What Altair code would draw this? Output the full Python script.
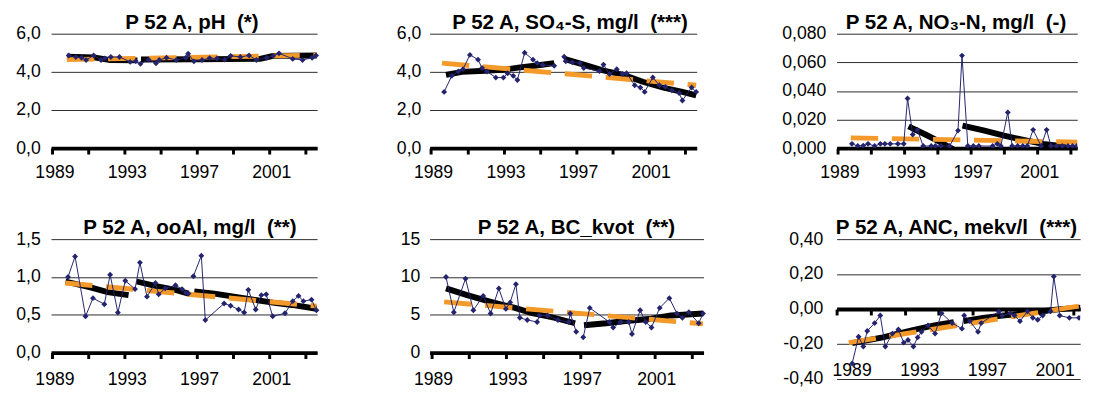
import altair as alt
import pandas as pd

FONT = "Liberation Sans"
NAVY = "#23236E"
ORANGE = "#F39A2B"
XDOM = [1988.92, 2003.65]
XDOM_CUT = [1988.95, 2003.40]
XTICKS = list(range(1989, 2004, 2))

# ---------------- pH ----------------
ph_years = [1989.90, 1990.29, 1990.61, 1990.86, 1991.28, 1991.69, 1991.90, 1992.23, 1992.71, 1993.30,
            1993.61, 1993.87, 1994.32, 1994.73, 1994.91, 1995.31, 1995.85, 1996.38, 1996.51, 1996.83,
            1997.28, 1997.70, 1998.10, 1998.53, 1998.86, 1999.40, 1999.88, 2000.29, 2000.86, 2001.22,
            2001.54, 2002.30, 2002.84, 2003.37, 2003.59]
ph_values = [4.86, 4.78, 4.74, 4.62, 4.86, 4.62, 4.71, 4.78, 4.78, 4.52,
             4.56, 4.42, 4.64, 4.45, 4.62, 4.74, 4.62, 4.74, 4.95, 4.55,
             4.62, 4.72, 4.70, 4.64, 4.84, 4.78, 4.86, 4.62, 4.74, 4.84,
             4.97, 4.68, 4.62, 4.74, 4.86]
ph_trend_years = [1989.80, 1991.30, 1992.20, 1993.70, 1993.90, 1997.00, 2000.50, 2001.20, 2003.62]
ph_trend_values = [4.80, 4.76, 4.62, 4.60, 4.65, 4.66, 4.68, 4.84, 4.86]
ph_trend_seg = [0, 0, 0, 0, 1, 1, 1, 1, 1]
ph_sen_years = [1989.80, 2003.62]
ph_sen_values = [4.64, 4.88]

# ---------------- SO4-S ----------------
so4_years = [1989.72, 1990.14, 1990.50, 1990.76, 1991.14, 1991.59, 1991.81, 1992.08, 1992.57, 1992.99,
             1993.22, 1993.53, 1993.76, 1994.16, 1994.62, 1994.85, 1995.16, 1995.79, 1996.34, 1996.43,
             1996.79, 1997.21, 1997.42, 1998.29, 1998.51, 1998.84, 1999.24, 1999.56, 1999.78, 2000.23,
             2000.54, 2000.78, 2001.23, 2001.59, 2001.92, 2002.28, 2002.68, 2002.86, 2003.37, 2003.62]
so4_values = [2.95, 3.79, 4.02, 4.14, 4.89, 4.64, 4.20, 4.02, 3.70, 3.70,
              3.93, 3.79, 3.57, 5.00, 4.64, 4.46, 4.36, 4.32, 4.79, 4.55,
              4.50, 4.46, 4.20, 4.04, 4.38, 3.89, 4.14, 3.89, 3.93, 3.30,
              3.18, 2.95, 3.71, 3.30, 3.21, 3.03, 2.89, 2.50, 3.18, 2.95]
so4_break = 1996.0
so4_trend_years = [1989.82, 1990.70, 1991.99, 1993.08, 1993.80, 1994.71, 1995.79,
                   1996.34, 1997.42, 1998.51, 1999.60, 2000.68, 2001.77, 2002.86, 2003.62]
so4_trend_values = [3.84, 4.00, 4.06, 4.12, 4.22, 4.32, 4.46,
                    4.68, 4.38, 4.07, 3.84, 3.48, 3.18, 2.95, 2.77]
so4_trend_seg = [0, 0, 0, 0, 0, 0, 0, 1, 1, 1, 1, 1, 1, 1, 1]
so4_sen_years = [1989.60, 2003.62]
so4_sen_values = [4.46, 3.30]

# ---------------- NO3-N ----------------
no3_years = [1989.87, 1990.22, 1990.55, 1990.84, 1991.23, 1991.58, 1991.85, 1992.17, 1992.63, 1992.98,
             1993.21, 1993.52, 1993.80, 1994.15, 1994.63, 1994.88, 1995.21, 1995.74, 1996.24, 1996.48,
             1996.83, 1997.16, 1997.49, 1998.32, 1998.60, 1998.81, 1999.23, 1999.49, 1999.82, 2000.13,
             2000.40, 2000.75, 2001.23, 2001.56, 2001.82, 2002.15, 2002.50, 2002.84, 2003.12, 2003.37,
             2003.62]
no3_values = [0.0030, 0.0015, 0.0018, 0.0030, 0.0015, 0.0030, 0.0030, 0.0030, 0.0030, 0.0030,
              0.0347, 0.0095, 0.0128, 0.0015, 0.0015, 0.0015, 0.0015, 0.0015, 0.0123, 0.0647,
              0.0015, 0.0015, 0.0015, 0.0015, 0.0030, 0.0015, 0.0250, 0.0015, 0.0015, 0.0015,
              0.0015, 0.0128, 0.0015, 0.0128, 0.0015, 0.0015, 0.0015, 0.0015, 0.0015, 0.0015,
              0.0015]
no3_trend_years = [1993.27, 1994.34, 1995.12, 1996.09,
                   1996.51, 1997.83, 1999.00, 2000.17, 2001.33, 2002.50, 2003.27, 2003.62]
no3_trend_values = [0.0153, 0.0092, 0.0046, -0.0016,
                    0.0157, 0.0123, 0.0088, 0.0058, 0.0030, 0.0014, -0.0023, -0.0030]
no3_trend_seg = [0, 0, 0, 0, 1, 1, 1, 1, 1, 1, 1, 1]
no3_sen_years = [1989.80, 2003.62]
no3_sen_values = [0.0072, 0.0042]

# ---------------- ooAl ----------------
ooal_years = [1989.86, 1990.25, 1990.83, 1991.24, 1991.87, 1992.19, 1992.62, 1993.03, 1993.57, 1993.84,
              1994.23, 1994.70, 1994.88, 1995.24, 1995.81, 1996.17, 1996.38, 1996.53, 1996.80, 1997.24,
              1997.46, 1998.50, 1998.86, 1999.30, 1999.61, 1999.84, 2000.25, 2000.56, 2000.83, 2001.19,
              2001.87, 2002.30, 2002.62, 2002.89, 2003.34, 2003.61]
ooal_values = [1.00, 1.27, 0.48, 0.72, 0.64, 1.03, 0.53, 0.95, 0.84, 1.19,
               0.74, 0.92, 0.77, 0.85, 0.89, 0.84, 0.79, 0.78, 1.01, 1.28,
               0.43, 0.65, 0.62, 0.57, 0.53, 0.83, 0.57, 0.76, 0.77, 0.48,
               0.52, 0.68, 0.75, 0.68, 0.70, 0.56]
ooal_break = 1996.65
ooal_trend_years = [1989.72, 1991.15, 1992.05, 1993.21,
                    1993.66, 1994.73, 1995.81, 1996.53,
                    1996.85, 1997.96, 1999.04, 2000.11, 2001.19, 2002.26, 2003.62]
ooal_trend_values = [0.94, 0.86, 0.80, 0.76,
                     0.94, 0.88, 0.83, 0.78,
                     0.81, 0.78, 0.74, 0.70, 0.66, 0.63, 0.58]
ooal_trend_seg = [0, 0, 0, 0, 1, 1, 1, 1, 2, 2, 2, 2, 2, 2, 2]
ooal_sen_years = [1989.70, 2003.62]
ooal_sen_values = [0.92, 0.615]

# ---------------- BC_kvot ----------------
bc_years = [1989.80, 1990.22, 1990.85, 1991.27, 1991.80, 1992.20, 1992.64, 1993.02, 1993.25, 1993.56,
            1993.77, 1994.17, 1994.70, 1994.82, 1995.26, 1995.82, 1996.40, 1996.48, 1996.80, 1997.18,
            1997.53, 1998.58, 1998.79, 1999.19, 1999.63, 1999.80, 2000.24, 2000.54, 2000.85, 2001.29,
            2001.81, 2002.22, 2002.51, 2002.86, 2003.39, 2003.62]
bc_values = [10.0, 5.34, 9.78, 5.60, 7.50, 5.17, 8.49, 5.78, 6.64, 9.05,
             4.61, 4.31, 4.05, 4.91, 4.91, 4.31, 4.05, 5.17, 2.76, 2.03,
             5.91, 4.05, 3.32, 4.05, 4.05, 2.46, 5.60, 4.05, 3.32, 5.91,
             7.20, 5.17, 4.61, 5.34, 3.88, 5.17]
bc_break = 1997.0
bc_trend_years = [1989.80, 1990.89, 1992.11, 1993.51, 1994.38, 1995.61, 1996.74,
                  1997.22, 1998.41, 1999.45, 2000.85, 2001.90, 2003.62]
bc_trend_values = [8.49, 7.63, 6.77, 5.91, 5.26, 4.61, 3.88,
                   3.62, 3.88, 4.18, 4.48, 4.91, 5.17]
bc_trend_seg = [0, 0, 0, 0, 0, 0, 0, 1, 1, 1, 1, 1, 1]
bc_sen_years = [1989.70, 2003.62]
bc_sen_values = [6.70, 3.80]

# ---------------- ANC ----------------
anc_years = [1989.90, 1990.28, 1990.56, 1990.79, 1991.23, 1991.56, 1991.86, 1992.28, 1992.63, 1992.95,
             1993.20, 1993.52, 1993.77, 1994.00, 1994.38, 1994.80, 1995.18, 1995.81, 1996.39, 1996.52,
             1996.86, 1997.34, 1997.53, 1998.58, 1998.77, 1999.25, 1999.50, 1999.82, 2000.26, 2000.58,
             2000.87, 2001.16, 2001.63, 2001.82, 2002.17, 2002.74, 2003.31, 2003.62]
anc_values = [-0.311, -0.158, -0.214, -0.125, -0.080, -0.037, -0.214, -0.140, -0.117, -0.192,
              -0.177, -0.214, -0.162, -0.130, -0.093, -0.140, -0.024, -0.080, -0.112, -0.037,
              -0.069, -0.130, -0.080, -0.013, -0.037, -0.024, -0.037, -0.069, -0.013, -0.050,
              -0.061, -0.037, -0.013, 0.186, -0.037, -0.050, -0.050, -0.009]
anc_trend_years = [1989.90, 1991.71, 1993.43, 1994.76, 1995.91,
                   1996.48, 1997.63, 1998.77, 2000.11, 2001.44, 2002.20, 2003.62]
anc_trend_values = [-0.195, -0.162, -0.121, -0.093, -0.074,
                    -0.069, -0.050, -0.037, -0.024, -0.009, 0.000, 0.010]
anc_trend_seg = [0, 0, 0, 0, 0, 1, 1, 1, 1, 1, 1, 1]
anc_sen_years = [1989.70, 2003.62]
anc_sen_values = [-0.192, 0.022]


def y_label_expr(fmt):
    return ("replace(replace(format(datum.value, '%s'), '.', ','), '\u2212', '-')" % fmt)


def panel(title, obs_years, obs_values, obs_break, tr_years, tr_values, tr_seg,
          sen_years, sen_values, ydom, yticks, yfmt, w, h, y_pad, x_pad, title_dx,
          title_dy, xdom=XDOM, x_offset=0, x_label_offset=2, clip=False):
    obs = pd.DataFrame({"year": obs_years, "value": obs_values})
    obs["seg"] = [int(obs_break is not None and yy > obs_break) for yy in obs_years]
    trend = pd.DataFrame({"year": tr_years, "value": tr_values, "seg": tr_seg})
    sen = pd.DataFrame({"year": sen_years, "value": sen_values})

    x = alt.X("year:Q", scale=alt.Scale(domain=xdom, nice=False, zero=False),
              axis=alt.Axis(values=XTICKS,
                            labelExpr="(datum.value - 1989) % 4 == 0 ? '' + datum.value : ''",
                            title=None, grid=False, domainColor="black", domainWidth=4,
                            tickColor="black", tickWidth=3, tickSize=6,
                            labelFont=FONT, labelFontSize=18, labelColor="black",
                            labelPadding=x_pad, labelFlush=False, labelOverlap=False,
                            offset=x_offset, labelOffset=x_label_offset))
    y = alt.Y("value:Q", scale=alt.Scale(domain=ydom, nice=False, zero=False),
              axis=alt.Axis(values=yticks, labelExpr=y_label_expr(yfmt), title=None,
                            domain=False, ticks=False, grid=True, gridColor="#2a2a2a",
                            gridWidth=1, labelFont=FONT, labelFontSize=18,
                            labelColor="black", labelPadding=y_pad))
    black = alt.Chart(trend).mark_line(color="black", strokeWidth=6, strokeCap="butt",
                                       clip=clip).encode(x=x, y=y, detail="seg:N")
    orange = alt.Chart(sen).mark_line(color=ORANGE, strokeWidth=5, strokeDash=[28, 14],
                                      clip=clip).encode(x=x, y=y)
    navy = alt.Chart(obs).mark_line(
        color=NAVY, strokeWidth=1, clip=clip,
        point=alt.OverlayMarkDef(shape="diamond", size=36, filled=True, color=NAVY,
                                 clip=clip)).encode(x=x, y=y, detail="seg:N")
    return alt.layer(black, orange, navy).properties(
        width=w, height=h,
        title=alt.TitleParams(text=title, font=FONT, fontSize=21, fontWeight="bold",
                              color="black", anchor="middle", frame="group",
                              offset=0, dx=title_dx, dy=title_dy))


def spacer(w, h):
    return alt.Chart(pd.DataFrame({"v": [0]})).mark_point(opacity=0, size=1).encode(
        x=alt.X("v:Q", axis=None), y=alt.Y("v:Q", axis=None)).properties(width=w, height=h)


p1 = panel("P 52 A, pH \u00a0(*)", ph_years, ph_values, None, ph_trend_years, ph_trend_values,
           ph_trend_seg, ph_sen_years, ph_sen_values, [0, 6], [0, 2, 4, 6], ".1f",
           272, 117, 11, 10, 8, 8)
p2 = panel("P 52 A, SO\u2084-S, mg/l \u00a0(***)", so4_years, so4_values, so4_break,
           so4_trend_years, so4_trend_values, so4_trend_seg, so4_sen_years, so4_sen_values,
           [0, 6], [0, 2, 4, 6], ".1f", 273, 117, 9, 10, 7, 8)
p3 = panel("P 52 A, NO\u2083-N, mg/l \u00a0(-)", no3_years, no3_values, None,
           no3_trend_years, no3_trend_values, no3_trend_seg, no3_sen_years, no3_sen_values,
           [0, 0.08], [0, 0.02, 0.04, 0.06, 0.08], ".3f", 246, 117, 11, 10, -1, 8,
           xdom=XDOM_CUT, clip=True)
p4 = panel("P 52 A, ooAl, mg/l \u00a0(**)", ooal_years, ooal_values, ooal_break,
           ooal_trend_years, ooal_trend_values, ooal_trend_seg, ooal_sen_years, ooal_sen_values,
           [0, 1.5], [0, 0.5, 1.0, 1.5], ".1f", 272, 116, 11, 13, 6, 8)
p5 = panel("P 52 A, BC_kvot \u00a0(**)", bc_years, bc_values, bc_break,
           bc_trend_years, bc_trend_values, bc_trend_seg, bc_sen_years, bc_sen_values,
           [0, 15], [0, 5, 10, 15], "d", 280, 116, 10, 13, 10, 8)
p6 = panel("P 52 A, ANC, mekv/l \u00a0(***)", anc_years, anc_values, None,
           anc_trend_years, anc_trend_values, anc_trend_seg, anc_sen_years, anc_sen_values,
           [-0.4, 0.4], [-0.4, -0.2, 0, 0.2, 0.4], ".2f", 249, 143, 14, 48, -2, 8,
           xdom=[1988.98, 2003.38], x_offset=-71.5, x_label_offset=15, clip=True)

chart = alt.concat(
    p1, spacer(114.7, 117), p2, spacer(135.3, 117), p3,
    p4, spacer(108, 116), p5, spacer(132, 116), p6,
    columns=5, spacing={"row": 93, "column": 0}, bounds="flush", align="none"
).properties(
    padding={"left": 7, "top": 0, "right": 0, "bottom": 0}
).configure_view(stroke=None)

chart.save("out.html", embed_options={"renderer": "svg", "actions": False})
